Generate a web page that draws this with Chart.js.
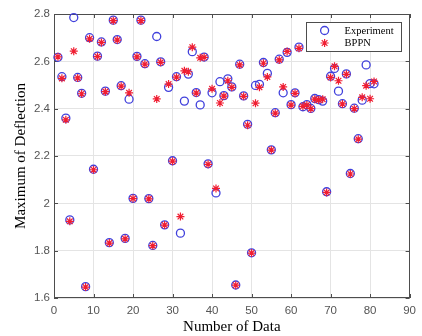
<!DOCTYPE html>
<html>
<head>
<meta charset="utf-8">
<script src="https://cdn.jsdelivr.net/npm/chart.js@4.4.0/dist/chart.umd.min.js"></script>
<style>
  html, body { margin: 0; padding: 0; background: #fff; }
  #wrap { width: 422px; height: 336px; }
</style>
</head>
<body>
<div id="wrap"><canvas id="chart" width="422" height="336"></canvas></div>
<script>
// sample index (x axis)
const dataIndex = [
  1, 2, 3, 4, 5, 6, 7, 8, 9, 10,
  11, 12, 13, 14, 15, 16, 17, 18, 19, 20,
  21, 22, 23, 24, 25, 26, 27, 28, 29, 30,
  31, 32, 33, 34, 35, 36, 37, 38, 39, 40,
  41, 42, 43, 44, 45, 46, 47, 48, 49, 50,
  51, 52, 53, 54, 55, 56, 57, 58, 59, 60,
  61, 62, 63, 64, 65, 66, 67, 68, 69, 70,
  71, 72, 73, 74, 75, 76, 77, 78, 79, 80,
  81
];

// measured maximum deflection
const experiment = [
  2.617, 2.535, 2.360, 1.930, 2.785, 2.532, 2.465, 1.648, 2.700, 2.144,
  2.622, 2.682, 2.474, 1.834, 2.774, 2.692, 2.497, 1.852, 2.440, 2.021,
  2.621, 2.774, 2.590, 2.020, 1.822, 2.705, 2.598, 1.909, 2.490, 2.180,
  2.535, 1.874, 2.432, 2.546, 2.641, 2.468, 2.416, 2.618, 2.167, 2.467,
  2.044, 2.514, 2.455, 2.526, 2.492, 1.655, 2.588, 2.454, 2.334, 1.791,
  2.498, 2.503, 2.595, 2.549, 2.226, 2.383, 2.609, 2.467, 2.638, 2.417,
  2.467, 2.660, 2.408, 2.417, 2.401, 2.443, 2.438, 2.432, 2.049, 2.537,
  2.570, 2.474, 2.421, 2.547, 2.126, 2.402, 2.273, 2.436, 2.585, 2.506,
  2.505
];

// BPPN prediction
const bppn = [
  2.619, 2.528, 2.353, 1.924, 2.643, 2.530, 2.463, 1.646, 2.695, 2.142,
  2.620, 2.680, 2.472, 1.832, 2.772, 2.690, 2.495, 1.850, 2.467, 2.020,
  2.619, 2.772, 2.588, 2.019, 1.821, 2.441, 2.596, 1.908, 2.504, 2.178,
  2.533, 1.944, 2.560, 2.556, 2.660, 2.466, 2.615, 2.617, 2.165, 2.484,
  2.063, 2.424, 2.453, 2.518, 2.490, 1.654, 2.585, 2.452, 2.330, 1.790,
  2.423, 2.490, 2.592, 2.534, 2.225, 2.381, 2.606, 2.492, 2.642, 2.415,
  2.465, 2.655, 2.410, 2.415, 2.400, 2.440, 2.437, 2.440, 2.046, 2.532,
  2.579, 2.518, 2.420, 2.545, 2.124, 2.400, 2.271, 2.448, 2.497, 2.442,
  2.515
];

const xRange = [0, 90];
const yRange = [1.6, 2.8];

const blue = '#4040dc';
const red = '#f01e32';
const axisColor = '#4d4d4d';

function toPoints(ys) {
  return dataIndex.map((x, i) => ({ x: x, y: ys[i] }));
}

// box around the plot with inward ticks on all four sides
const framePlugin = {
  id: 'frame',
  beforeDatasetsDraw(chart) {
    const { ctx, chartArea: a, scales } = chart;
    const len = 4;
    ctx.save();
    ctx.strokeStyle = axisColor;
    ctx.lineWidth = 1;
    ctx.beginPath();
    scales.x.ticks.forEach(t => {
      const px = Math.round(scales.x.getPixelForValue(t.value)) + 0.5;
      ctx.moveTo(px, a.bottom); ctx.lineTo(px, a.bottom - len);
      ctx.moveTo(px, a.top); ctx.lineTo(px, a.top + len);
    });
    scales.y.ticks.forEach(t => {
      const py = Math.round(scales.y.getPixelForValue(t.value)) + 0.5;
      ctx.moveTo(a.left, py); ctx.lineTo(a.left + len, py);
      ctx.moveTo(a.right, py); ctx.lineTo(a.right - len, py);
    });
    ctx.stroke();
    ctx.strokeRect(Math.round(a.left) + 0.5, Math.round(a.top) + 0.5,
      Math.round(a.right - a.left) - 1, Math.round(a.bottom - a.top) - 1);
    ctx.restore();
  }
};

// MATLAB style boxed legend in the upper right corner
const boxLegend = {
  id: 'boxLegend',
  afterDraw(chart) {
    const { ctx, chartArea: a } = chart;
    const ds = chart.data.datasets;
    const bx = a.right - 104, by = a.top + 8, bw = 95, bh = 29;
    ctx.save();
    ctx.fillStyle = '#fff';
    ctx.fillRect(bx, by, bw, bh);
    ctx.strokeStyle = axisColor;
    ctx.lineWidth = 1;
    ctx.strokeRect(Math.round(bx) + 0.5, Math.round(by) + 0.5, bw, bh);
    ctx.font = '10.5px "Liberation Serif", "Times New Roman", serif';
    ctx.textBaseline = 'middle';
    ctx.fillStyle = '#000';
    ds.forEach((d, i) => {
      const cy = by + 8.5 + i * 12.5;
      const cx = bx + 19;
      ctx.strokeStyle = d.borderColor;
      ctx.lineWidth = d.borderWidth;
      ctx.beginPath();
      if (d.pointStyle === 'circle') {
        ctx.arc(cx, cy, d.pointRadius, 0, Math.PI * 2);
      } else {
        const r = d.pointRadius, q = r * Math.SQRT1_2;
        ctx.moveTo(cx - r, cy); ctx.lineTo(cx + r, cy);
        ctx.moveTo(cx, cy - r); ctx.lineTo(cx, cy + r);
        ctx.moveTo(cx - q, cy - q); ctx.lineTo(cx + q, cy + q);
        ctx.moveTo(cx - q, cy + q); ctx.lineTo(cx + q, cy - q);
      }
      ctx.stroke();
      ctx.fillText(d.label, bx + 39, cy + 0.5);
    });
    ctx.restore();
  }
};

const tickFont = { family: '"Liberation Sans", Arial, sans-serif', size: 11.5 };
const titleFont = { family: '"Liberation Serif", "Times New Roman", serif', size: 15 };

new Chart(document.getElementById('chart').getContext('2d'), {
  type: 'scatter',
  data: {
    datasets: [
      {
        label: 'Experiment',
        data: toPoints(experiment),
        pointStyle: 'circle',
        pointRadius: 4,
        pointHoverRadius: 4,
        borderWidth: 1.3,
        borderColor: blue,
        backgroundColor: 'rgba(0,0,0,0)',
        order: 2,
        clip: false
      },
      {
        label: 'BPPN',
        data: toPoints(bppn),
        pointStyle: 'star',
        pointRadius: 4,
        pointHoverRadius: 4,
        borderWidth: 1.2,
        borderColor: red,
        backgroundColor: red,
        order: 1,
        clip: false
      }
    ]
  },
  options: {
    responsive: false,
    animation: false,
    layout: { padding: { left: 0, right: 7, top: 14, bottom: 0 } },
    plugins: {
      legend: { display: false },
      tooltip: { enabled: false }
    },
    scales: {
      x: {
        type: 'linear',
        min: xRange[0],
        max: xRange[1],
        ticks: { stepSize: 10, color: '#555', font: tickFont, padding: 6, maxRotation: 0 },
        grid: { color: '#e4e4e4', drawTicks: false },
        border: { display: false },
        title: { display: true, text: 'Number of Data', color: '#000', font: titleFont, padding: { top: 0, bottom: 0 } },
        afterFit(scale) { scale.height = 38; }
      },
      y: {
        type: 'linear',
        min: yRange[0],
        max: yRange[1],
        ticks: {
          stepSize: 0.2, color: '#555', font: tickFont, padding: 4,
          callback: v => String(Math.round(v * 10) / 10)
        },
        grid: { color: '#e4e4e4', drawTicks: false },
        border: { display: false },
        title: { display: true, text: 'Maximum of Deflection', color: '#000', font: titleFont, padding: { top: 12, bottom: 0 } },
        afterFit(scale) { scale.width = 54; }
      }
    }
  },
  plugins: [framePlugin, boxLegend]
});
</script>
</body>
</html>
